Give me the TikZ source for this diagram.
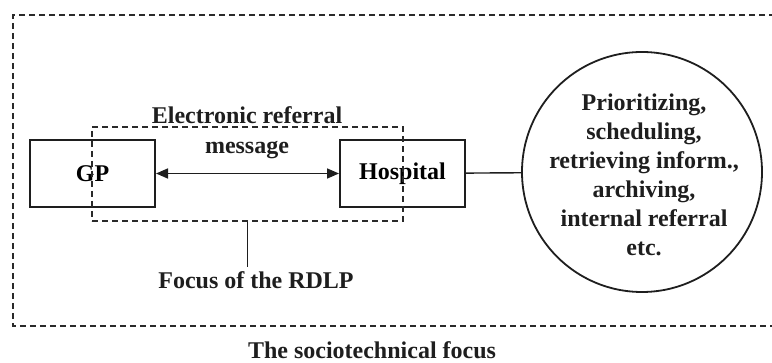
\documentclass[tikz,border=0pt]{standalone}
\usepackage{fontspec}
\setmainfont{Liberation Serif}
\usetikzlibrary{arrows.meta,positioning}
\definecolor{FocusInk}{HTML}{1E1E1E}
\definecolor{FocusDash}{HTML}{2A2A2A}

\begin{document}
\begin{tikzpicture}[
    x=0.5pt, y=-0.5pt,
    font=\bfseries\fontsize{12}{15}\selectfont,
    party/.style={
        draw=FocusInk,
        line width=1pt,
        minimum width=62.5pt,
        minimum height=33.5pt,
        inner sep=0pt
    },
    tasks/.style={
        circle,
        draw=FocusInk,
        line width=0.9pt,
        minimum size=120pt,
        inner sep=0pt
    },
    task list/.style={align=center, inner sep=0pt, text=FocusInk,
                      font=\bfseries\fontsize{12}{14.5}\selectfont},
    focus box/.style={draw=FocusDash, line width=0.8pt,
                      dash pattern=on 3pt off 2pt,
                      minimum width=155.5pt, minimum height=47pt},
    frame/.style={draw=FocusDash, line width=0.8pt,
                  dash pattern=on 3pt off 2pt},
    exchange/.style={{Triangle[length=6pt,width=5pt]}-{Triangle[length=6pt,width=5pt]},
                     draw=FocusInk, line width=0.8pt},
    link/.style={draw=FocusInk, line width=0.7pt},
    caption/.style={text=FocusInk, align=center}
]
    \useasboundingbox (0,0) rectangle (772,363);

    % sociotechnical frame, open towards the right edge
    \draw[frame] (775,15) -- (13,15) -- (13,326) -- (775,326);
    \node[caption, anchor=base] (sociolabel) at (372,359)
        {The sociotechnical focus};

    \node[party] (gp) at (92.5,173.5) {GP};
    \node[party] (hospital) at (402.5,173.5) {Hospital};
    \node[tasks] (work) at (642,172) {};
    \node[task list] (worklist) at (644,175)
        {Prioritizing,\\scheduling,\\retrieving inform.,\\archiving,\\internal referral\\etc.};

    \draw[exchange] (gp) -- (hospital);
    \draw[link] (hospital) -- (work);

    % focus of the RDLP
    \node[focus box] (rdlp) at (247.5,174) {};
    \node[caption] (msglabel) at (247,133)
        {Electronic referral\\message};
    \node[caption, inner sep=2pt] (rdlplabel) at (256,280)
        {Focus of the RDLP};
    \draw[link] (rdlp.south) -- (rdlp.south |- rdlplabel.north);
\end{tikzpicture}
\end{document}
